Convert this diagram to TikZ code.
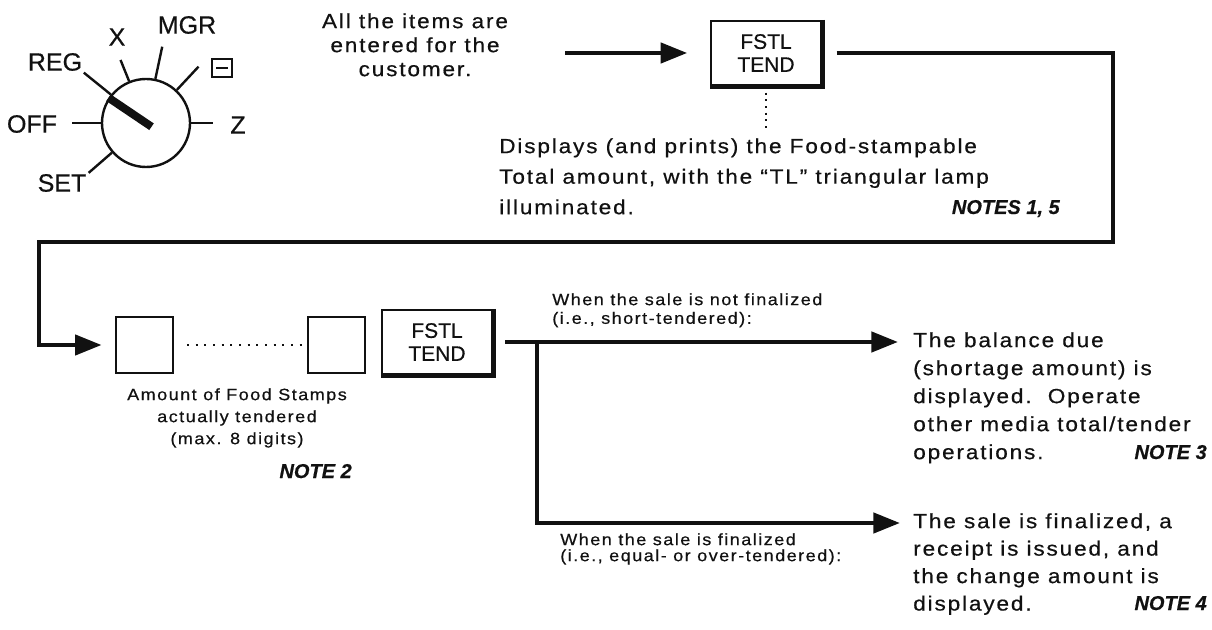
\documentclass[tikz,border=0pt]{standalone}
\usepackage{fontspec}
\setmainfont{Liberation Sans}[FakeBold=0.5]
\newfontfamily\spacedfont{Liberation Sans}[FakeStretch=1.1, LetterSpace=9, FakeBold=0.5]
\usetikzlibrary{positioning, arrows.meta, calc}
\definecolor{cInk}{HTML}{111111}

\begin{document}
\begin{tikzpicture}[x=0.75pt, y=-0.75pt, color=cInk,
  flow/.style={line width=3.4pt, -{Triangle[length=20pt,width=15pt]}},
  keybox/.style={draw, line width=1.6pt, minimum width=82.5pt, minimum height=48pt,
    inner sep=0pt, align=center, font=\fontsize{15.75pt}{17.25pt}\selectfont},
  blankkey/.style={draw, line width=1.5pt, minimum width=42.75pt, minimum height=42pt, inner sep=0pt},
  dialtxt/.style={inner sep=0pt, font=\fontsize{18.75pt}{20pt}\selectfont},
  bodytxt/.style={inner sep=0pt, align=left, font=\spacedfont\fontsize{15.4pt}{#1}\selectfont},
  bodytxt/.default=22.9pt,
  smalltxt/.style={inner sep=0pt, align=left, font=\spacedfont\fontsize{12.3pt}{#1}\selectfont},
  smalltxt/.default=14pt,
  notetxt/.style={inner sep=0pt, anchor=base east, font=\bfseries\itshape\fontsize{15pt}{16pt}\selectfont},
  dotsV/.style={line width=2pt, dash pattern=on 1.5pt off 3.5pt},
  dotsH/.style={line width=1.8pt, dash pattern=on 1.5pt off 5pt},
]
\useasboundingbox (0,0) rectangle (1212,630);

% mode switch
\node[circle, draw, line width=1.8pt, minimum size=66pt, inner sep=0pt] (dial) at (146,123) {};
\draw[line width=6pt] ($(dial.center)+(-34:5pt)$) -- (dial.146);
\foreach \a/\r in {141/60, 112/51, 78/58.5, 47/57.75, 0/50, 180/55.5, 221/57}
  \draw[line width=1.8pt] (dial.\a) -- ($(dial.center)+(\a:\r pt)$);
\node[dialtxt] (regL) at (55,62) {REG};
\node[dialtxt] (xL) at (117,37) {X};
\node[dialtxt] (mgrL) at (187,25) {MGR};
\node[draw, line width=1.6pt, minimum width=15pt, minimum height=13.5pt, inner sep=0pt] (minusL) at (222,68) {\rule{9pt}{2.2pt}};
\node[dialtxt] (zL) at (238,125) {Z};
\node[dialtxt] (offL) at (32,124) {OFF};
\node[dialtxt] (setL) at (62,183) {SET};

% first row
\node[bodytxt=18pt, align=center, anchor=north] (items) at (415,13) {All the items are\\entered for the\\customer.};
\node[keybox] (fstlA) at (766,53) {FSTL\\TEND};
\coordinate (entry) at (565,53);
\draw[flow, shorten >=17pt] (entry) -- (fstlA);
\coordinate (dotEnd) at (766,132);
\draw[dotsV] (fstlA.south) -- (dotEnd);
\node[bodytxt, anchor=north west] (lampText) at (499,138)
  {Displays (and prints) the Food-stampable\\Total amount, with the “TL” triangular lamp\\illuminated.};
\node[notetxt] (notesA) at (1060,214) {NOTES 1, 5};

% return line
\node[blankkey] (keyA) at (144.5,345) {};
\node[blankkey] (keyB) at (336.5,345) {};
\coordinate (cornerA) at (1113,242);
\coordinate (cornerB) at (39,242);
\draw[flow, shorten <=11pt, shorten >=10pt] (fstlA.east) -| (cornerA) -- (cornerB) |- (keyA.west);
\draw[dotsH, shorten <=9.75pt, shorten >=3.75pt] (keyA) -- (keyB);
\node[keybox] (fstlB) at (437,342) {FSTL\\TEND};
\foreach \k in {fstlA, fstlB}
  \draw[line width=2.2pt] ([xshift=1pt]\k.north east) -- ([xshift=1pt, yshift=-1pt]\k.south east) -- ([yshift=-1pt]\k.south west);
\node[smalltxt=16.5pt, align=center, anchor=north] (amount) at (237,388)
  {Amount of Food Stamps\\actually tendered\\(max. 8 digits)};
\node[notetxt] (noteB) at (352,478) {NOTE 2};

% branches
\coordinate (fork) at (537,342);
\coordinate (tipA) at (898,342);
\coordinate (tipB) at (900,523);
\draw[flow, shorten <=9pt] (fstlB) -- (tipA);
\draw[flow] (fork) |- (tipB);
\node[smalltxt, anchor=north west] (shortCond) at (552,293) {When the sale is not finalized\\(i.e., short-tendered):};
\node[smalltxt=12pt, anchor=north west] (finalCond) at (560,533) {When the sale is finalized\\(i.e., equal- or over-tendered):};
\node[bodytxt=21pt, anchor=north west] (balance) at (913,332)
  {The balance due\\(shortage amount) is\\displayed.~~Operate\\other media total/tender\\operations.};
\node[notetxt] (noteC) at (1207,459) {NOTE 3};
\node[bodytxt=20.6pt, anchor=north west] (finalText) at (913,513)
  {The sale is finalized, a\\receipt is issued, and\\the change amount is\\displayed.};
\node[notetxt] (noteD) at (1207,610) {NOTE 4};
\end{tikzpicture}
\end{document}
